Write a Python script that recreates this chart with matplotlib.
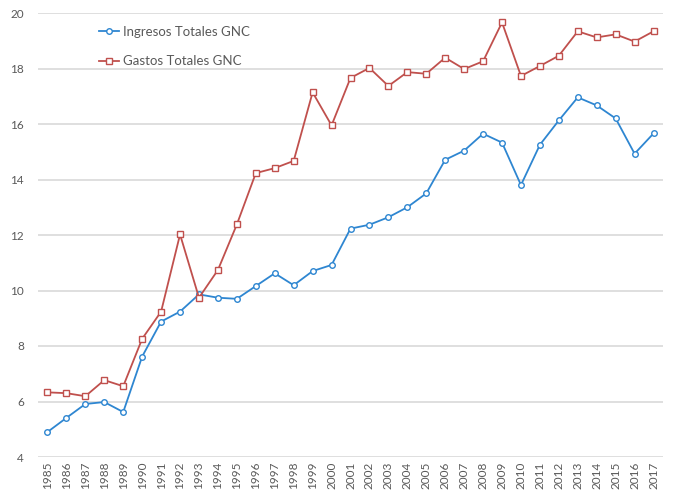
import numpy as np
import matplotlib.pyplot as plt

years = list(range(1985, 2018))
ingresos = [4.90, 5.41, 5.91, 5.98, 5.62, 7.62, 8.88, 9.24, 9.86, 9.74, 9.70,
            10.16, 10.62, 10.19, 10.70, 10.92, 12.23, 12.37, 12.64, 13.00, 13.50,
            14.71, 15.04, 15.65, 15.33, 13.80, 15.25, 16.13, 16.96, 16.67, 16.20,
            14.93, 15.66]
gastos = [6.33, 6.30, 6.19, 6.77, 6.55, 8.26, 9.24, 12.02, 9.74, 10.74, 12.38,
          14.23, 14.41, 14.67, 17.14, 15.95, 17.66, 18.02, 17.37, 17.87, 17.81,
          18.39, 17.98, 18.26, 19.66, 17.73, 18.09, 18.46, 19.34, 19.12, 19.23,
          18.97, 19.34]
labels = ["Ingresos Totales GNC", "Gastos Totales GNC"]

plt.rcParams['font.family'] = ['Lato', 'DejaVu Sans']
txt = "#595959"

fig = plt.figure(figsize=(6.81, 4.97), dpi=100)
ax = fig.add_axes([38/681, 1-457/497, 625/681, 444/497])

ax.plot(years, ingresos, color="#2E86D1", lw=1.3, marker="o", ms=4,
        mfc="white", mew=1.0, label=labels[0])
ax.plot(years, gastos, color="#C0504D", lw=1.3, marker="s", ms=4,
        mfc="white", mew=1.0, label=labels[1])

ax.set_xlim(1984.5, 2017.5)
ax.set_ylim(4, 20)
ax.set_yticks(np.arange(4, 21, 2))
ax.set_xticks(years)
ax.set_xticklabels([str(y) for y in years], rotation=90)
ax.tick_params(length=0, colors=txt, labelsize=8.5)
ax.tick_params(axis='y', pad=10)
ax.grid(axis='y', color="#D9D9D9", lw=1.2)
ax.set_axisbelow(True)
for s in ax.spines.values():
    s.set_visible(False)

leg = ax.legend(loc='upper left', bbox_to_anchor=(99/681, 1-26/497),
                bbox_transform=fig.transFigure, frameon=False, fontsize=9.5,
                handlelength=1.5, handletextpad=0.3, labelspacing=1.3,
                borderaxespad=0, borderpad=0)
for t in leg.get_texts():
    t.set_color(txt)

fig.savefig("out.png", dpi=100)
